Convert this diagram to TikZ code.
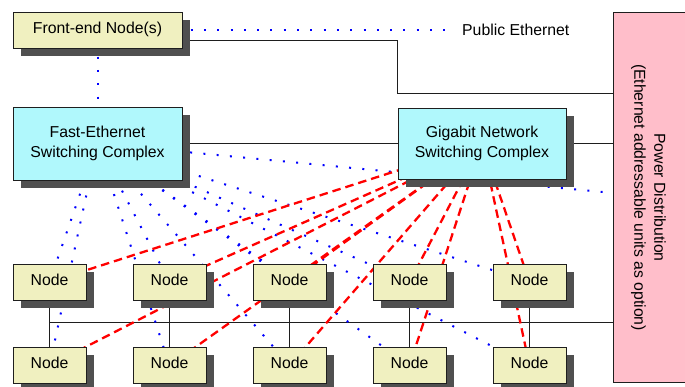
\documentclass[tikz,border=0pt]{standalone}
\usepackage{fontspec}
\setmainfont{Liberation Sans}
\usetikzlibrary{shadows,backgrounds}
\definecolor{boxyellow}{RGB}{240,240,192}
\definecolor{boxcyan}{RGB}{176,248,252}
\definecolor{boxpink}{RGB}{255,190,202}
\definecolor{shadowgray}{RGB}{80,80,80}
\definecolor{edgeblack}{RGB}{30,30,30}
\definecolor{lanblue}{RGB}{0,0,255}
\definecolor{gigared}{RGB}{255,0,0}
\tikzset{
  x=1pt, y=-1pt,
  every node/.style={font=\fontsize{15.8}{20}\selectfont},
  boxshadow/.style={drop shadow={shadow xshift=7.5pt, shadow yshift=-7.5pt,
      fill=shadowgray, opacity=1}},
  unitbox/.style={draw=edgeblack, line width=0.9pt, fill=boxyellow, boxshadow,
      minimum width=73pt, minimum height=36pt, inner sep=0pt, align=center,
      text depth=4.5pt},
  switchbox/.style={draw=edgeblack, line width=0.9pt, fill=boxcyan, boxshadow,
      minimum height=72pt, inner sep=0pt, align=center},
  wire/.style={draw=edgeblack, line width=0.9pt},
  fastlink/.style={draw=lanblue, line width=2pt, line cap=butt,
      dash pattern=on 2pt off 11.3pt},
  gigalink/.style={draw=gigared, line width=2.3pt, dash pattern=on 8.5pt off 5pt},
}
\begin{document}
\begin{tikzpicture}
\useasboundingbox (0,0) rectangle (685,386);

% power distribution column, running off the right edge
\begin{scope}
  \clip (0,0) rectangle (685,386);
  \node[draw=edgeblack, line width=0.9pt, fill=boxpink, minimum width=80pt,
        minimum height=370pt, inner sep=0pt, anchor=north west] (pwr) at (613,12) {};
\end{scope}
\node[rotate=-90, align=center, inner sep=0pt] (pwrtext) at (648.5,197.5)
  {Power Distribution\\(Ethernet addressable units as option)};

% head node and switches
\node[unitbox, minimum width=169pt] (front) at (97.5,30) {Front-end Node(s)};
\node[switchbox, minimum width=169pt, minimum height=73pt] (fast) at (97.5,143.5)
  {Fast-Ethernet\\Switching Complex};
\node[switchbox, minimum width=168pt, minimum height=71pt] (giga) at (482,143.5)
  {Gigabit Network\\Switching Complex};
\node[anchor=west, inner sep=0pt] (pub) at (462,30) {Public Ethernet};

% compute nodes, two rows of five
\foreach \i in {1,...,5}{
  \node[unitbox] (a\i) at ({49.5+120*(\i-1)},282) {Node};
  \node[unitbox] (b\i) at ({49.5+120*(\i-1)},365.5) {Node};
}

\coordinate (bend) at (397,93);
\coordinate (busL) at (49.5,322);
\coordinate (pwrdot) at (613,193);

\begin{pgfonlayer}{background}
  % power / management wiring
  \draw[wire] ([yshift=-10pt]front.east) -| (bend) -- (bend -| pwr.west);
  \draw[wire] (fast.center) -- (fast.center -| pwr.west);
  \draw[wire] (busL) -- (busL -| pwr.west);
  \foreach \i in {1,...,5}{ \draw[wire] (a\i) -- (b\i); }
  % public and fast ethernet
  \draw[fastlink] (front.center) -- ([xshift=-9pt]pub.west);
  \draw[fastlink] (front.center) -- (fast.center);
  \draw[fastlink] (fast.center) -- (pwrdot);
  \foreach \i in {1,...,5}{
    \draw[fastlink] (fast.center) -- (a\i.center);
    \draw[fastlink] (fast.center) -- (b\i.center);
  }
  % gigabit links
  \foreach \i in {1,...,5}{
    \draw[gigalink] (giga.center) -- (a\i.center);
    \draw[gigalink] (giga.center) -- (b\i.center);
  }
\end{pgfonlayer}
\end{tikzpicture}
\end{document}
